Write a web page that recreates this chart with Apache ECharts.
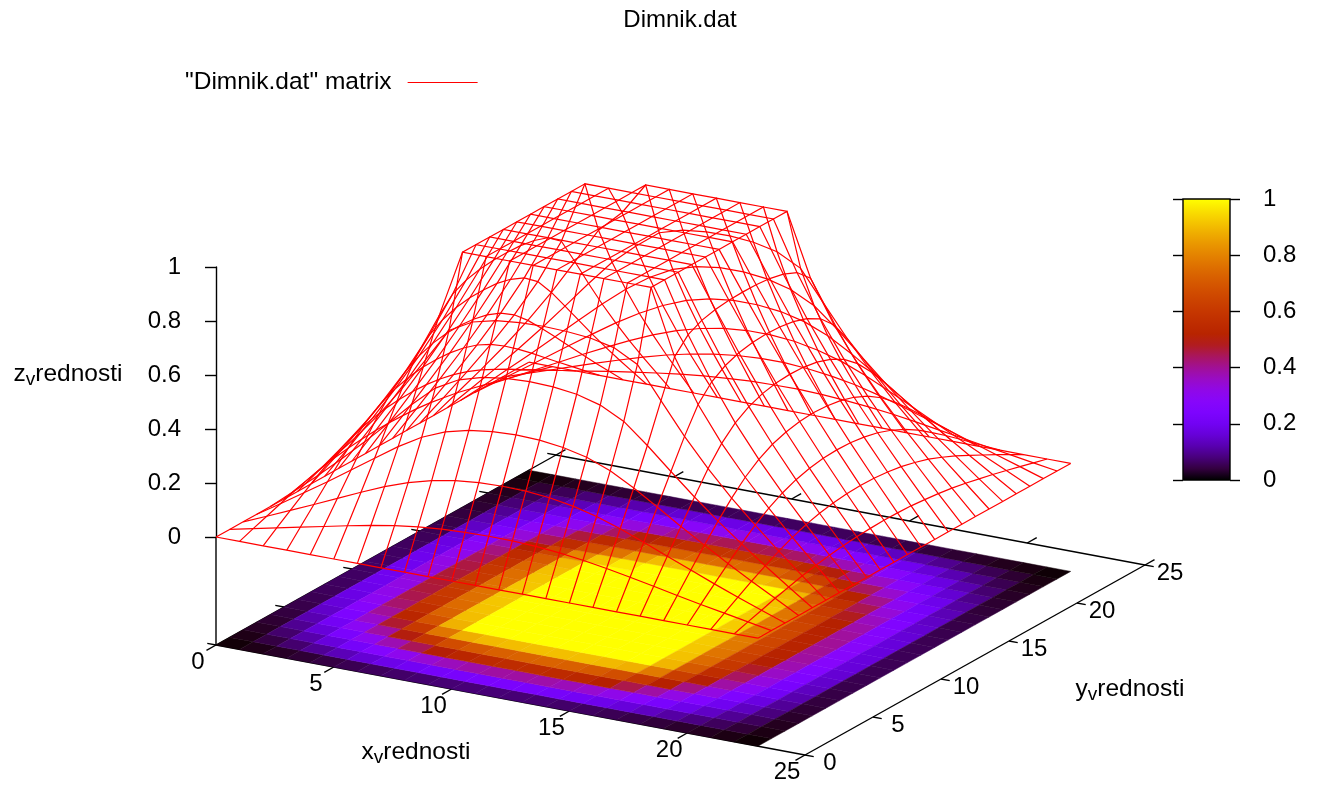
<!DOCTYPE html>
<html><head><meta charset="utf-8"><style>html,body{margin:0;padding:0;background:#fff}#c{width:1317px;height:786px}</style>
<script src="https://cdn.jsdelivr.net/npm/echarts@6/dist/echarts.min.js"></script></head><body><div id="c"></div>
<script>
// Surface heights, in thousandths, one row per y (0..23), one column per x (0..23).
var zThousandths = [
[0,0,0,0,0,0,0,0,0,0,0,0,0,0,0,0,0,0,0,0,0,0,0,0],
[0,19,38,57,76,95,113,128,140,148,152,154,153,149,141,130,116,100,83,65,48,32,16,0],
[0,37,75,113,152,191,228,259,283,299,308,311,309,301,286,264,235,201,166,131,96,63,31,0],
[0,55,112,169,229,289,348,399,435,457,469,473,470,459,439,405,358,304,248,195,143,94,47,0],
[0,73,147,224,305,390,476,553,600,625,638,642,639,628,604,560,487,407,329,256,188,123,61,0],
[0,88,179,274,376,489,612,738,786,807,816,819,816,808,789,743,625,509,406,313,229,149,74,0],
[0,102,207,317,438,576,747,1000,1000,1000,1000,1000,1000,1000,1000,1000,759,599,471,362,264,172,85,0],
[0,113,229,351,482,630,800,1000,1000,1000,1000,1000,1000,1000,1000,1000,813,655,519,400,292,191,94,0],
[0,121,245,374,511,661,824,1000,1000,1000,1000,1000,1000,1000,1000,1000,838,687,551,428,313,205,101,0],
[0,126,255,388,529,678,836,1000,1000,1000,1000,1000,1000,1000,1000,1000,850,706,571,445,327,215,106,0],
[0,129,260,396,537,686,841,1000,1000,1000,1000,1000,1000,1000,1000,1000,856,716,582,456,336,221,109,0],
[0,130,262,397,539,687,842,1000,1000,1000,1000,1000,1000,1000,1000,1000,858,719,586,460,339,223,111,0],
[0,128,259,393,534,683,839,1000,1000,1000,1000,1000,1000,1000,1000,1000,857,717,584,457,337,222,110,0],
[0,125,252,383,522,670,830,1000,1000,1000,1000,1000,1000,1000,1000,1000,852,709,575,449,330,217,108,0],
[0,119,240,366,500,647,812,1000,1000,1000,1000,1000,1000,1000,1000,1000,840,692,557,433,318,209,103,0],
[0,110,223,340,466,605,771,1000,1000,1000,1000,1000,1000,1000,1000,1000,818,663,529,409,299,196,97,0],
[0,100,201,306,417,537,667,800,882,1000,1000,1000,1000,1000,1000,1000,769,612,485,375,274,180,89,0],
[0,87,175,266,360,458,558,653,729,795,821,831,832,825,806,761,645,531,426,331,243,159,79,0],
[0,73,148,223,300,378,454,525,585,631,658,670,671,661,638,594,521,439,358,280,206,136,67,0],
[0,59,118,178,239,298,356,408,453,488,510,521,521,512,491,455,405,347,286,226,167,110,55,0],
[0,44,89,133,178,221,262,300,332,356,373,381,381,374,357,332,297,256,213,169,126,83,42,0],
[0,30,59,89,118,146,173,197,217,233,244,250,250,244,233,217,195,169,141,113,84,56,28,0],
[0,15,30,44,59,73,86,98,108,115,121,123,124,121,115,107,97,84,70,56,42,28,14,0],
[0,0,0,0,0,0,0,0,0,0,0,0,0,0,0,0,0,0,0,0,0,0,0,0]
];
var xTicks = [0,5,10,15,20,25];
var yTicks = [0,5,10,15,20,25];
var paletteLevels = [0,.04,.08,.12,.16,.2,.24,.28,.32,.36,.4,.44,.48,.52,.56,.6,.64,.68,.72,.76,.8,.84,.88,.92,.96,1];
var seriesName = '"Dimnik.dat" matrix';

var N = zThousandths.length, axisMax = 25, zBase = -0.4;
function zAt(i, j) { return zThousandths[j][i] / 1000; }
// gnuplot's orthographic view: data (x,y,z) to the page-sized hidden value axes
var origin = [216, 645], ex = [23.56, 4.4], ey = [13.6, -7.6], ez = -270;
function view(x, y, z) {
  return [origin[0] + ex[0] * x + ey[0] * y, origin[1] + ex[1] * x + ey[1] * y + ez * (z - zBase)];
}
function palette(v) { // gnuplot rgbformulae 7,5,15
  return 'rgb(' + Math.round(Math.sqrt(v) * 255) + ',' + Math.round(v * v * v * 255) + ',' +
    Math.round(Math.max(0, Math.sin(2 * Math.PI * v)) * 255) + ')';
}
var FONT = 'Liberation Sans', FS = 24;

var cells = [], meshLines = [], frameSegs = [];
for (var j = 0; j < N - 1; j++) for (var i = 0; i < N - 1; i++) cells.push([i, j]);
for (var k = 0; k < N; k++) { meshLines.push([0, k]); meshLines.push([1, k]); }
frameSegs.push([0, 0, zBase, axisMax, 0, zBase], [axisMax, 0, zBase, axisMax, axisMax, zBase],
  [axisMax, axisMax, zBase, 0, axisMax, zBase], [0, axisMax, zBase, 0, 0, zBase], [0, 0, 0, 0, 0, zBase]);
xTicks.forEach(function (t) {
  frameSegs.push([t, 0, zBase, t, -0.7, zBase], [t, axisMax, zBase, t, axisMax + 0.7, zBase]);
});
yTicks.forEach(function (t) {
  frameSegs.push([0, t, zBase, -0.37, t, zBase], [axisMax, t, zBase, axisMax + 0.37, t, zBase]);
});

var tickTexts = [];
xTicks.forEach(function (t) { tickTexts.push({ p: view(t, 0, zBase), dx: -18, dy: 17, text: String(t) }); });
yTicks.forEach(function (t) { tickTexts.push({ p: view(axisMax, t, zBase), dx: 25, dy: 8, text: String(t) }); });
var axisNames = [
  { at: [416, 752], letter: 'x' }, { at: [1130, 689], letter: 'y' }, { at: [68, 374], letter: 'z' }
];

var hidden = { type: 'value', show: false };
var black = { color: '#000', width: 1.4 };
var chart = echarts.init(document.getElementById('c'));
chart.setOption({
  animation: false,
  title: { text: 'Dimnik.dat', left: 675, top: 3, textAlign: 'center',
    textStyle: { fontFamily: FONT, fontSize: FS, fontWeight: 'normal', color: '#000' } },
  legend: { data: [{ name: seriesName, icon: 'rect' }], left: 185, top: 70, align: 'right', selectedMode: false,
    itemWidth: 70, itemHeight: 1, padding: 0,
    itemStyle: { color: '#f00', borderWidth: 0 },
    textStyle: { fontFamily: FONT, fontSize: 24.5, color: '#000', padding: [1, 11, 0, 0] } },
  grid: [
    { left: 0, top: 0, width: 1317, height: 786 },
    { left: 216, top: 267, width: 10, height: 270 },
    { left: 1183, top: 199, width: 47, height: 281, show: true, borderColor: '#000', borderWidth: 1.4, backgroundColor: 'transparent', z: 5 }
  ],
  xAxis: [
    Object.assign({ gridIndex: 0, min: 0, max: 1317 }, hidden),
    Object.assign({ gridIndex: 1, min: 0, max: 1 }, hidden),
    Object.assign({ gridIndex: 2, min: 0, max: 1 }, hidden)
  ],
  yAxis: [
    Object.assign({ gridIndex: 0, min: 0, max: 786, inverse: true }, hidden),
    { type: 'value', gridIndex: 1, min: 0, max: 1, interval: 0.2, position: 'left', splitLine: { show: false },
      axisLine: { show: true, lineStyle: black },
      axisTick: { show: true, length: 11, inside: false, lineStyle: black },
      axisLabel: { margin: 35, fontFamily: FONT, fontSize: FS, color: '#000', padding: [6, 0, 0, 0] } },
    { type: 'value', gridIndex: 2, min: 0, max: 1, interval: 0.2, position: 'left', splitLine: { show: false },
      axisLine: { show: false }, axisTick: { show: true, length: 10, lineStyle: black },
      axisLabel: { show: false } },
    { type: 'value', gridIndex: 2, min: 0, max: 1, interval: 0.2, position: 'right', splitLine: { show: false },
      axisLine: { show: false }, axisTick: { show: true, length: 10, lineStyle: black },
      axisLabel: { margin: 33, fontFamily: FONT, fontSize: FS, color: '#000', padding: [6, 0, 0, 0] } }
  ],
  series: [
    { type: 'custom', name: 'frame', data: frameSegs, clip: false, silent: true, z: 1, renderItem: function (p, api) {
        var a = api.coord(view(api.value(0), api.value(1), api.value(2)));
        var b = api.coord(view(api.value(3), api.value(4), api.value(5)));
        return { type: 'line', shape: { x1: a[0], y1: a[1], x2: b[0], y2: b[1] }, style: { stroke: '#000', lineWidth: 1.4 } };
      } },
    { type: 'custom', name: 'base', data: cells, clip: false, silent: true, z: 2, renderItem: function (p, api) {
        var i = api.value(0), j = api.value(1);
        var m = palette((zAt(i, j) + zAt(i + 1, j) + zAt(i, j + 1) + zAt(i + 1, j + 1)) / 4);
        var pts = [[i, j], [i + 1, j], [i + 1, j + 1], [i, j + 1]].map(function (q) { return api.coord(view(q[0], q[1], zBase)); });
        return { type: 'polygon', shape: { points: pts }, style: { fill: m, stroke: m, lineWidth: 0.5 } };
      } },
    { type: 'custom', name: seriesName, data: meshLines, clip: false, silent: true, z: 3, itemStyle: { color: '#f00' }, renderItem: function (p, api) {
        var d = api.value(0), k = api.value(1), pts = [];
        for (var t = 0; t < N; t++) { var i = d ? k : t, j = d ? t : k; pts.push(api.coord(view(i, j, zAt(i, j)))); }
        return { type: 'polyline', shape: { points: pts }, style: { fill: null, stroke: '#f00', lineWidth: 1.2 } };
      } },
    { type: 'custom', name: 'tickLabels', data: tickTexts.map(function (t, i) { return [i]; }), clip: false, silent: true, z: 4, renderItem: function (p, api) {
        var t = tickTexts[api.value(0)], c = api.coord(t.p);
        return { type: 'text', x: c[0] + t.dx, y: c[1] + t.dy, style: { text: t.text, align: 'center', verticalAlign: 'middle', fontFamily: FONT, fontSize: FS, fill: '#000' } };
      } },
    { type: 'custom', name: 'axisNames', data: axisNames.map(function (t, i) { return [i]; }), clip: false, silent: true, z: 4, renderItem: function (p, api) {
        var t = axisNames[api.value(0)], c = api.coord(t.at);
        return { type: 'text', x: c[0], y: c[1], style: { text: '{n|' + t.letter + '}{s|v}{n|rednosti}', align: 'center', verticalAlign: 'middle', fill: '#000',
          rich: { n: { fontFamily: FONT, fontSize: 24.5, lineHeight: 28, fill: '#000' }, s: { fontFamily: FONT, fontSize: 19, lineHeight: 28, padding: [12, 0, 0, 0], fill: '#000' } } } };
      } },
    { type: 'custom', name: 'colorBar', xAxisIndex: 2, yAxisIndex: 2, data: [[0, 0]], clip: false, silent: true, z: 1, renderItem: function (p, api) {
        var a = api.coord([0, 1]), b = api.coord([1, 0]);
        return { type: 'rect', shape: { x: a[0], y: a[1], width: b[0] - a[0], height: b[1] - a[1] },
          style: { fill: new echarts.graphic.LinearGradient(0, 1, 0, 0, paletteLevels.map(function (v) { return { offset: v, color: palette(v) }; })) } };
      } }
  ]
});
</script></body></html>
